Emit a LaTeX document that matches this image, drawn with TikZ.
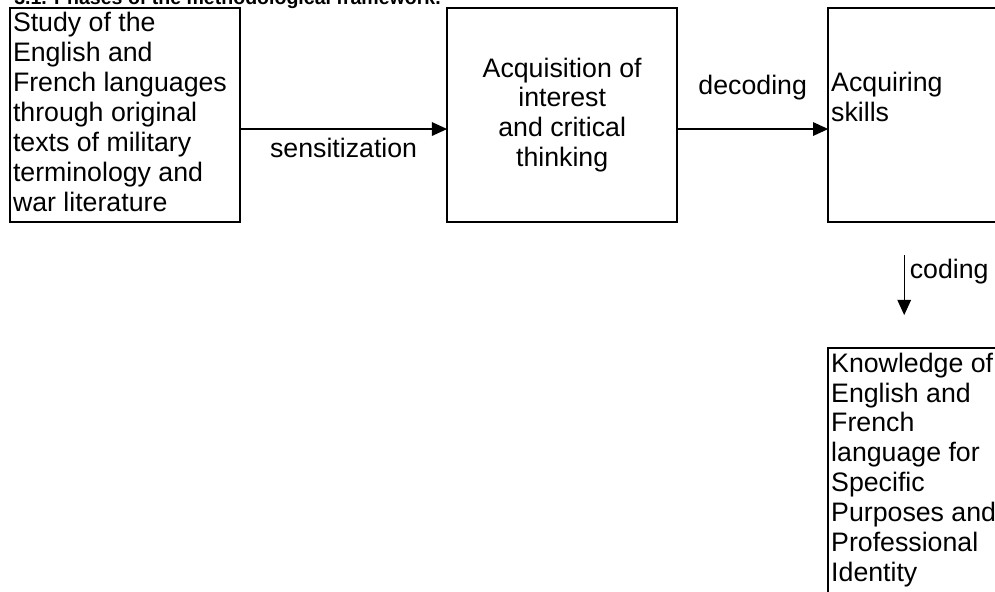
\documentclass[tikz,border=0pt]{standalone}
\usepackage{fontspec}
\setmainfont{Liberation Sans}
\usetikzlibrary{arrows.meta,positioning,calc}
\newcommand{\bodysize}{\fontsize{19}{21.3}\selectfont}
\tikzset{
  frm/.style={rectangle,draw=black,line width=1.4pt,inner sep=0.075cm,
    outer sep=0pt,font=\bodysize},
  arr/.style={-{Triangle[length=0.38cm,width=0.34cm]},line width=0.9pt},
  lbl/.style={inner sep=0pt,font=\bodysize},
}

\begin{document}
\begin{tikzpicture}[x=0.025cm,y=-0.025cm]
  \useasboundingbox (0,0) rectangle (995,592);
  \clip (0,0) rectangle (995,592);
  \node[anchor=base west,inner sep=0pt,font=\fontsize{13.9}{16}\selectfont\bfseries] (title) at (14,4) {3.1. Phases of the methodological framework.};
  \node[frm,anchor=north west] (study) at (10,8) {\parbox[c][5.2cm][t]{5.6cm}{\raggedright\strut Study of the\\English and\\French languages\\through original\\texts of military\\terminology and\\war literature}};
  \node[frm,right=5.175cm of study] (interest) {\parbox[c][5.2cm][c]{5.6cm}{\centering Acquisition of\\interest\\and critical\\thinking}};
  \node[frm,right=3.775cm of interest] (skills) {\parbox[c][5.2cm][t]{5.6cm}{\raggedright\vspace*{2\baselineskip}\strut Acquiring\\skills}};
  \node[frm,below=3.15cm of skills] (knowledge) {\parbox[c][6.8cm][t]{5.6cm}{\raggedright\strut Knowledge of\\English and\\French\\language for\\Specific\\Purposes and\\Professional\\Identity}};
  \coordinate (cfrom) at ($(skills.south west)+(76,33)$);
  \coordinate (cto) at ($(skills.south west)+(76,93)$);
  \draw[arr] ([yshift=-0.35cm]study.east) -- ([yshift=-0.35cm]interest.west)
    node[lbl,midway,anchor=base,yshift=-0.7cm] {sensitization};
  \draw[arr] ([yshift=-0.35cm]interest.east) -- ([yshift=-0.35cm]skills.west)
    node[lbl,midway,anchor=base,yshift=0.875cm] {decoding};
  \draw[arr] (cfrom) -- (cto)
    node[lbl,midway,anchor=base west,xshift=0.125cm,yshift=0.175cm] {coding};
\end{tikzpicture}
\end{document}
